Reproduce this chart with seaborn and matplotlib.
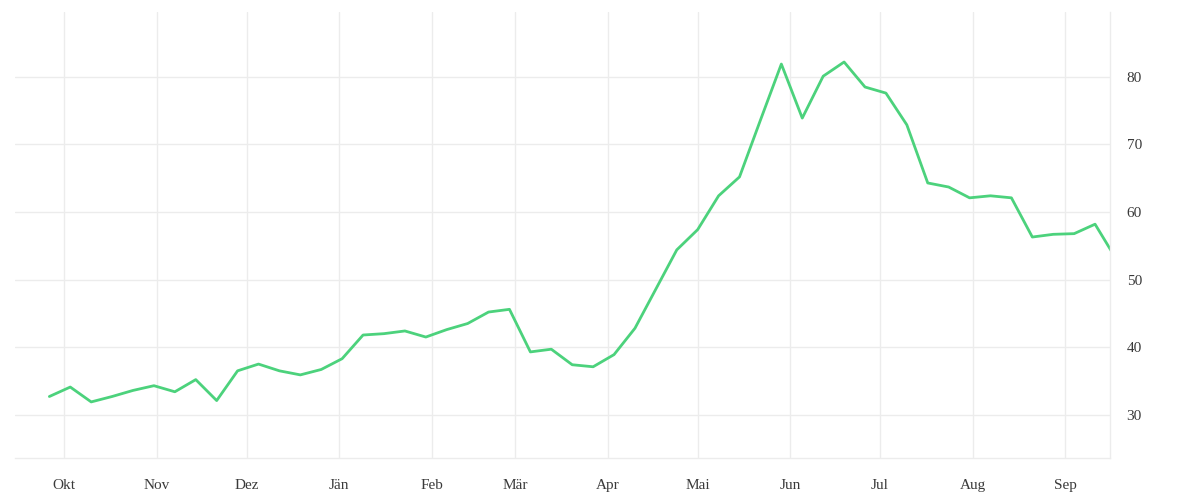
import pandas as pd
import seaborn as sns
import matplotlib.pyplot as plt

# weekly values
start_date = '2022-09-26'
values = [32.7, 34.1, 31.9, 32.7, 33.6, 34.3, 33.4, 35.2, 32.1, 36.5,
          37.5, 36.5, 35.9, 36.7, 38.3, 41.8, 42.0, 42.4, 41.5, 42.6,
          43.5, 45.2, 45.6, 39.3, 39.7, 37.4, 37.1, 38.9, 42.8, 48.6,
          54.4, 57.4, 62.4, 65.2, 73.6, 81.9, 73.9, 80.1, 82.2, 78.5,
          77.6, 72.9, 64.3, 63.7, 62.1, 62.4, 62.1, 56.3, 56.7, 56.8,
          58.2, 53.1]
month_starts = pd.date_range('2022-10-01', '2023-09-01', freq='MS')
month_labels = ['Okt', 'Nov', 'Dez', 'Jän', 'Feb', 'Mär', 'Apr', 'Mai',
                'Jun', 'Jul', 'Aug', 'Sep']
y_ticks = [30, 40, 50, 60, 70, 80]

df = pd.DataFrame({
    'date': pd.date_range(start_date, periods=len(values), freq='7D'),
    'value': values,
})

sns.set_theme(style='white')
plt.rcParams['font.family'] = ['Liberation Serif', 'DejaVu Serif']
grid_col = '#ececec'

fig = plt.figure(figsize=(12, 5), dpi=100)
ax = fig.add_axes([0.0125, 0.084, 0.9125, 0.892])

sns.lineplot(data=df, x='date', y='value', ax=ax, color='#4cd27c', linewidth=2.0)

ax.set_xlim(pd.Timestamp('2022-09-14 12:00'), pd.Timestamp('2023-09-16'))
ax.set_ylim(23.6, 89.6)

ax.set_xticks(month_starts)
ax.set_xticklabels(month_labels)
ax.set_yticks(y_ticks)
ax.yaxis.tick_right()

ax.grid(True, color=grid_col, linewidth=1)
ax.tick_params(axis='x', length=5, color=grid_col, width=1, pad=10,
               labelsize=11, labelcolor='#3a3a3a')
ax.tick_params(axis='y', length=0, pad=12, labelsize=11, labelcolor='#3a3a3a',
               left=False, right=False)

for side in ['top', 'left']:
    ax.spines[side].set_visible(False)
for side in ['bottom', 'right']:
    ax.spines[side].set_color(grid_col)
    ax.spines[side].set_linewidth(1)

ax.set_xlabel('')
ax.set_ylabel('')

fig.savefig('out.png', dpi=100)
